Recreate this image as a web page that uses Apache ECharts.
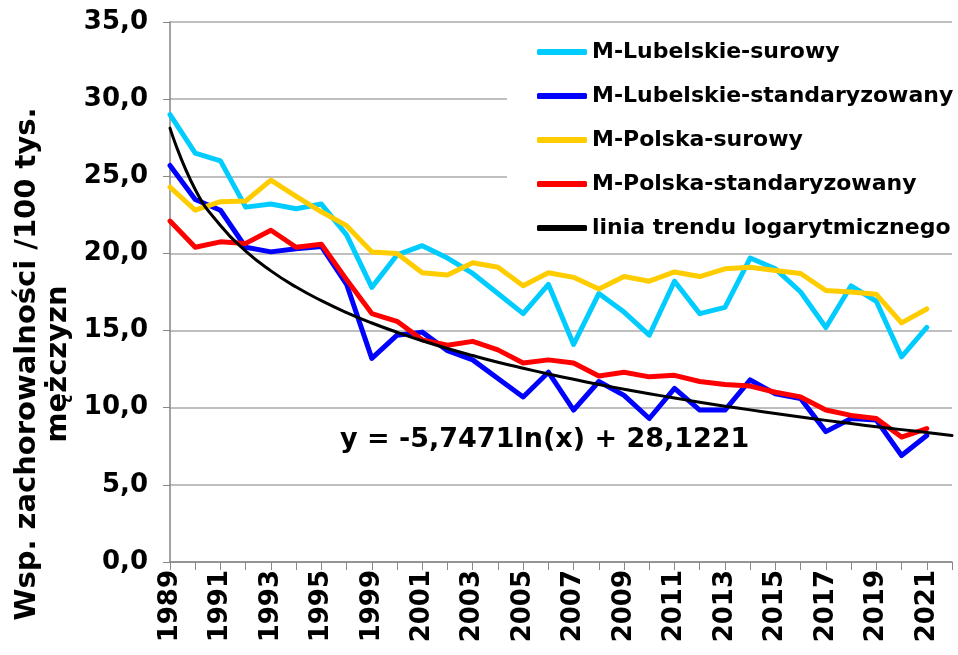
<!DOCTYPE html>
<html>
<head>
<meta charset="utf-8">
<script src="https://cdn.jsdelivr.net/npm/echarts@6/dist/echarts.min.js"></script>
<style>
  html, body { margin: 0; padding: 0; background: #fff; }
  #chart { width: 958px; height: 655px; }
</style>
</head>
<body>
<div id="chart"></div>
<script>
// lata (brak 1997-1998), ostatnia pozycja pusta - trend wydłużony o 1 okres
const years = ['1989', '1990', '1991', '1992', '1993', '1994', '1995', '1996',
  '1999', '2000', '2001', '2002', '2003', '2004', '2005', '2006', '2007', '2008',
  '2009', '2010', '2011', '2012', '2013', '2014', '2015', '2016', '2017', '2018',
  '2019', '2020', '2021', ''];

const lubelskieSurowy = [29.0, 26.5, 26.0, 23.0, 23.2, 22.9, 23.2, 21.2,
  17.8, 19.9, 20.5, 19.7, 18.7, 17.4, 16.1, 18.0, 14.1, 17.4,
  16.2, 14.7, 18.2, 16.1, 16.5, 19.7, 19.0, 17.5, 15.2, 17.9,
  16.9, 13.3, 15.2];

const lubelskieStand = [25.7, 23.5, 22.8, 20.4, 20.1, 20.3, 20.45, 18.0,
  13.2, 14.7, 14.9, 13.7, 13.1, 11.9, 10.7, 12.3, 9.85, 11.7,
  10.8, 9.3, 11.25, 9.85, 9.85, 11.8, 10.9, 10.6, 8.45, 9.3,
  9.2, 6.9, 8.2];

const polskaSurowy = [24.3, 22.8, 23.35, 23.4, 24.75, 23.7, 22.7, 21.8,
  20.1, 20.0, 18.75, 18.6, 19.4, 19.1, 17.9, 18.75, 18.45, 17.7,
  18.5, 18.2, 18.8, 18.5, 19.0, 19.1, 18.9, 18.7, 17.6, 17.5,
  17.35, 15.5, 16.4];

const polskaStand = [22.1, 20.4, 20.75, 20.65, 21.5, 20.4, 20.6, 18.3,
  16.1, 15.6, 14.4, 14.05, 14.3, 13.75, 12.9, 13.1, 12.9, 12.05,
  12.3, 12.0, 12.1, 11.7, 11.5, 11.4, 11.0, 10.7, 9.85, 9.5,
  9.3, 8.1, 8.65];

// linia trendu (y = -5,7471ln(x) + 28,1221)
const trendLine = [28.12, 24.14, 21.81, 20.15, 18.87, 17.82, 16.94, 16.17,
  15.49, 14.89, 14.34, 13.84, 13.38, 12.95, 12.56, 12.19, 11.84, 11.51,
  11.20, 10.91, 10.63, 10.36, 10.10, 9.86, 9.62, 9.40, 9.18, 8.97,
  8.77, 8.58, 8.39, 8.20];

const seriesNames = ['M-Lubelskie-surowy', 'M-Lubelskie-standaryzowany',
  'M-Polska-surowy', 'M-Polska-standaryzowany', 'linia trendu logarytmicznego'];
const seriesColors = ['#00CCFF', '#0000FF', '#FFCC00', '#FF0000', '#000000'];

const FONT = 'DejaVu Sans';

function lineSeries(i, data, width) {
  return {
    name: seriesNames[i],
    type: 'line',
    data: data,
    symbol: 'none',
    color: seriesColors[i],
    lineStyle: { color: seriesColors[i], width: width, join: 'round', cap: 'round' },
    z: 2 + i * 0.1
  };
}

const chart = echarts.init(document.getElementById('chart'));
chart.setOption({
  animation: false,
  backgroundColor: '#fff',
  grid: { left: 170, right: 6, top: 22, bottom: 93, containLabel: false },
  legend: {
    orient: 'vertical',
    left: 507,
    top: 24,
    z: 5,
    padding: [17, 0, 10, 30],
    icon: 'roundRect',
    itemWidth: 50,
    itemHeight: 6,
    itemGap: 22,
    textStyle: { fontFamily: FONT, fontWeight: 'bold', fontSize: 22, color: '#000', lineHeight: 22 },
    data: seriesNames
  },
  xAxis: {
    type: 'category',
    data: years,
    boundaryGap: false,
    axisLine: { lineStyle: { color: '#868686', width: 1.5 } },
    axisTick: { show: true, interval: 0, length: 8, lineStyle: { color: '#868686' } },
    axisLabel: {
      interval: 1,
      rotate: 90,
      margin: 8,
      fontFamily: FONT,
      fontWeight: 'bold',
      fontSize: 26,
      color: '#000'
    },
    splitLine: { show: false }
  },
  yAxis: {
    type: 'value',
    min: 0,
    max: 35,
    interval: 5,
    axisLine: { show: true, lineStyle: { color: '#868686', width: 1.5 } },
    axisTick: { show: true, length: 7, lineStyle: { color: '#868686' } },
    axisLabel: {
      margin: 22,
      fontFamily: FONT,
      fontWeight: 'bold',
      fontSize: 26,
      color: '#000',
      formatter: v => v.toFixed(1).replace('.', ',')
    },
    splitLine: { show: true, lineStyle: { color: '#aaaaaa', width: 1.5 } }
  },
  graphic: [
    {
      // białe tło legendy zasłaniające linie siatki
      type: 'rect',
      z: 3,
      shape: { x: 507, y: 24, width: 445, height: 226 },
      style: { fill: '#fff' }
    },
    {
      type: 'text',
      x: 43,
      y: 364,
      rotation: Math.PI / 2,
      style: {
        text: 'Wsp. zachorowalności /100 tys.\nmężczyzn',
        font: 'bold 29px "DejaVu Sans"',
        fill: '#000',
        align: 'center',
        verticalAlign: 'middle',
        lineHeight: 31
      }
    },
    {
      type: 'text',
      left: 340,
      top: 426,
      z: 10,
      style: {
        text: 'y = -5,7471ln(x) + 28,1221',
        font: 'bold 27px "DejaVu Sans"',
        fill: '#000'
      }
    }
  ],
  series: [
    lineSeries(0, lubelskieSurowy, 5),
    lineSeries(1, lubelskieStand, 5),
    lineSeries(2, polskaSurowy, 5),
    lineSeries(3, polskaStand, 5),
    Object.assign(lineSeries(4, trendLine, 3), { smooth: true })
  ]
});
</script>
</body>
</html>
